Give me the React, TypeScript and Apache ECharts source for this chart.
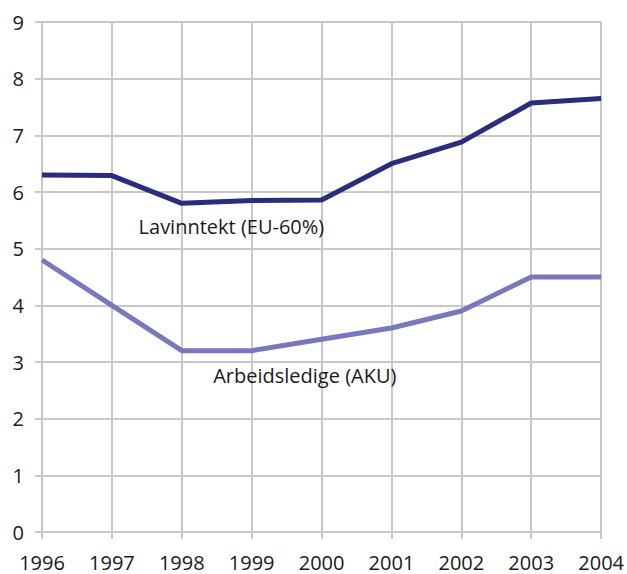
import React, { useEffect, useRef } from "react";
import * as echarts from "echarts";

const years = [1996, 1997, 1998, 1999, 2000, 2001, 2002, 2003, 2004];
const lavinntekt = [6.3, 6.29, 5.8, 5.85, 5.86, 6.5, 6.88, 7.57, 7.65];
const arbeidsledige = [4.8, 4.0, 3.2, 3.2, 3.4, 3.6, 3.9, 4.5, 4.5];
const seriesNames = ["Lavinntekt (EU-60%)", "Arbeidsledige (AKU)"];
const labelCoords = [
  [1998.71, 5.4],
  [1999.76, 2.77],
];

const FONT = "Open Sans";
const GRID = "#c8c8c8";

export default function App() {
  const ref = useRef<HTMLDivElement>(null);
  useEffect(() => {
    const chart = echarts.init(ref.current!, null, { renderer: "svg" });
    const mk = (name: string, vals: number[], color: string, coord: number[]) => ({
      name,
      type: "line",
      data: years.map((y, i) => [y, vals[i]]),
      symbol: "none",
      lineStyle: { color, width: 5 },
      itemStyle: { color },
      z: 3,
      markPoint: {
        symbol: "circle",
        symbolSize: 0,
        silent: true,
        data: [
          {
            coord,
            label: {
              show: true,
              position: "inside",
              formatter: name,
              color: "#1a1a1a",
              fontSize: 20,
              fontFamily: FONT,
            },
          },
        ],
      },
    });
    chart.setOption({
      animation: false,
      backgroundColor: "#fff",
      grid: { left: 42, right: 24, top: 22, bottom: 42, containLabel: false },
      xAxis: {
        type: "value",
        min: 1996,
        max: 2004,
        interval: 1,
        axisLine: { show: true, lineStyle: { color: GRID, width: 2 } },
        axisTick: { show: true, length: 7, lineStyle: { color: GRID, width: 2 } },
        axisLabel: {
          color: "#1a1a1a",
          fontSize: 20,
          fontFamily: FONT,
          margin: 20,
          formatter: (v: number) => String(v),
        },
        splitLine: { show: true, lineStyle: { color: GRID, width: 2 } },
      },
      yAxis: {
        type: "value",
        min: 0,
        max: 9,
        interval: 1,
        axisLine: { show: false },
        axisTick: { show: true, length: 7, lineStyle: { color: GRID, width: 2 } },
        axisLabel: { color: "#1a1a1a", fontSize: 20, fontFamily: FONT, margin: 18 },
        splitLine: { show: true, lineStyle: { color: GRID, width: 2 } },
      },
      series: [
        mk(seriesNames[0], lavinntekt, "#2a2d7c", labelCoords[0]),
        mk(seriesNames[1], arbeidsledige, "#7a78bd", labelCoords[1]),
      ],
    });
    return () => chart.dispose();
  }, []);
  return (
    <div
      ref={ref}
      style={{ position: "absolute", left: 0, top: 0, width: 627, height: 574 }}
    />
  );
}
